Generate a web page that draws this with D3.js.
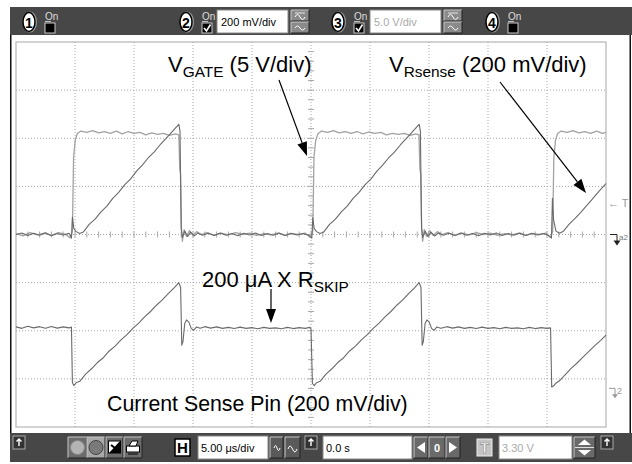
<!DOCTYPE html>
<html>
<head>
<meta charset="utf-8">
<script src="https://cdn.jsdelivr.net/npm/d3@7"></script>
<style>
html, body { margin: 0; padding: 0; background: #fff; }
svg { display: block; font-family: "Liberation Sans", Arial, Helvetica, sans-serif; }
</style>
</head>
<body>
<div id="chart"></div>
<script>
// =======================
// Scope settings & traces (time in µs)
// =======================
const timePerDiv = 5;          // 5.00 µs/div
const gateVoltsPerDiv = 5;     // 5 V/div
const senseMvPerDiv = 200;     // 200 mV/div
const csGroundDiv = -3.3;      // ground of the current sense trace, divisions from centre

const timeGrid = [-20, -15, -10, -5, 0, 5, 10, 15, 20];
const divGrid = [-3, -2, -1, 0, 1, 2, 3];

// V_GATE, volts
const gateTrace = [
  [-25.0, 0.1], [-24.4, -0.15], [-23.8, 0.2], [-23.2, -0.05], [-22.6, 0.15], [-22.0, -0.1], [-21.4, 0.2], [-20.8, 0.0],
  [-20.4, -0.35], [-20.22, 0.3], [-20.12, 8.0], [-19.98, 9.8], [-19.8, 10.5], [-19.5, 10.75],
  [-19.0, 10.6], [-18.5, 10.8], [-18.0, 10.55], [-17.5, 10.7], [-17.0, 10.5], [-16.5, 10.75], [-16.0, 10.45],
  [-15.5, 10.7], [-15.0, 10.5], [-14.5, 10.6], [-14.0, 10.35], [-13.5, 10.55], [-13.0, 10.4], [-12.5, 10.5],
  [-12.0, 10.3], [-11.5, 10.45], [-11.2, 10.35],
  [-11.12, 6.8], [-11.06, 6.3], [-10.98, 0.6], [-10.9, -0.7], [-10.75, 0.5], [-10.55, -0.2], [-10.3, 0.4],
  [-10.0, -0.1], [-9.7, 0.3], [-9.3, 0.0], [-8.8, 0.2], [-8.2, -0.1], [-7.6, 0.15], [-7.0, -0.05], [-6.4, 0.2],
  [-5.8, 0.0], [-5.2, 0.15], [-4.6, -0.1], [-4.0, 0.1], [-3.4, -0.05], [-2.8, 0.15], [-2.2, -0.1], [-1.6, 0.1],
  [-1.0, 0.0], [-0.5, 0.15], [-0.05, -0.3], [0.15, 0.3], [0.25, 8.0], [0.4, 9.8], [0.6, 10.5], [0.9, 10.75],
  [1.4, 10.6], [1.9, 10.8], [2.4, 10.55], [2.9, 10.7], [3.4, 10.5], [3.9, 10.7], [4.4, 10.45], [4.9, 10.65],
  [5.4, 10.5], [5.9, 10.6], [6.4, 10.35], [6.9, 10.5], [7.4, 10.4], [7.9, 10.5], [8.4, 10.3], [8.9, 10.45], [9.15, 10.35],
  [9.23, 6.8], [9.3, 6.3], [9.38, 0.6], [9.46, -0.7], [9.6, 0.5], [9.8, -0.2], [10.05, 0.4], [10.35, -0.1],
  [10.7, 0.3], [11.1, 0.0], [11.6, 0.2], [12.2, -0.1], [12.8, 0.15], [13.4, -0.05], [14.0, 0.2], [14.6, 0.0],
  [15.2, 0.15], [15.8, -0.1], [16.4, 0.1], [17.0, -0.05], [17.6, 0.15], [18.2, -0.1], [18.8, 0.1], [19.4, 0.0],
  [19.9, 0.15], [20.3, -0.3], [20.48, 0.3], [20.58, 8.0], [20.72, 9.8], [20.9, 10.5], [21.2, 10.75],
  [21.7, 10.6], [22.2, 10.8], [22.7, 10.55], [23.2, 10.7], [23.7, 10.5], [24.2, 10.75], [24.7, 10.5], [25.0, 10.6]
];

// V_Rsense, millivolts
const rsenseTrace = [
  [-25.0, 0], [-24.5, 6], [-24.0, -4], [-23.5, 5], [-23.0, -3], [-22.5, 7], [-22.0, -5], [-21.5, 4], [-21.0, -2],
  [-20.5, 5], [-20.3, -15], [-20.22, 72], [-20.1, 25], [-19.9, 12], [-19.6, 4], [-19.3, 10],
  [-18.8, 42], [-18.3, 64], [-17.8, 94], [-17.3, 118], [-16.8, 150], [-16.3, 175], [-15.8, 206], [-15.3, 230],
  [-14.8, 262], [-14.3, 288], [-13.8, 318], [-13.3, 342], [-12.8, 372], [-12.3, 398], [-11.8, 425], [-11.4, 447], [-11.2, 458],
  [-11.1, 430], [-11.0, 25], [-10.9, -12], [-10.7, 14], [-10.45, -8], [-10.2, 10], [-9.9, -6], [-9.6, 6], [-9.2, -3],
  [-8.7, 5], [-8.2, -4], [-7.7, 6], [-7.2, -3], [-6.7, 4], [-6.2, -5], [-5.7, 5], [-5.2, -2], [-4.7, 6], [-4.2, -4],
  [-3.7, 4], [-3.2, -3], [-2.7, 6], [-2.2, -4], [-1.7, 5], [-1.2, -2], [-0.7, 4], [-0.2, -3],
  [0.07, -15], [0.15, 70], [0.27, 25], [0.47, 12], [0.77, 4], [1.07, 10],
  [1.57, 42], [2.07, 64], [2.57, 94], [3.07, 118], [3.57, 150], [4.07, 175], [4.57, 206], [5.07, 230], [5.57, 262],
  [6.07, 288], [6.57, 318], [7.07, 342], [7.57, 372], [8.07, 398], [8.57, 425], [8.97, 447], [9.17, 458],
  [9.27, 430], [9.37, 25], [9.47, -12], [9.67, 14], [9.92, -8], [10.17, 10], [10.47, -6], [10.8, 6], [11.2, -3],
  [11.7, 5], [12.2, -4], [12.7, 6], [13.2, -3], [13.7, 4], [14.2, -5], [14.7, 5], [15.2, -2], [15.7, 6], [16.2, -4],
  [16.7, 4], [17.2, -3], [17.7, 6], [18.2, -4], [18.7, 5], [19.2, -2], [19.7, 4], [20.1, -3],
  [20.38, -15], [20.46, 150], [20.56, 60], [20.76, 14], [21.06, 5], [21.36, 12],
  [21.86, 42], [22.36, 66], [22.86, 92], [23.36, 120], [23.86, 148], [24.36, 177], [24.86, 204], [25.0, 212]
];

// Current sense pin, millivolts
const csTrace = [
  [-25.0, 276], [-24.5, 270], [-24.0, 279], [-23.5, 272], [-23.0, 277], [-22.5, 270], [-22.0, 278], [-21.5, 271],
  [-21.0, 276], [-20.5, 272], [-20.3, 275], [-20.22, 45], [-20.1, 32], [-19.9, 44], [-19.6, 50],
  [-19.1, 80], [-18.6, 102], [-18.1, 128], [-17.6, 148], [-17.1, 176], [-16.6, 196], [-16.1, 222], [-15.6, 244],
  [-15.1, 270], [-14.6, 292], [-14.1, 318], [-13.6, 340], [-13.1, 366], [-12.6, 388], [-12.1, 414], [-11.6, 438], [-11.2, 460],
  [-11.05, 440], [-10.95, 200], [-10.85, 215], [-10.7, 290], [-10.55, 305], [-10.35, 296], [-10.15, 270], [-9.95, 262],
  [-9.7, 276], [-9.4, 270], [-9.0, 277], [-8.5, 271], [-8.0, 276], [-7.5, 270], [-7.0, 274], [-6.5, 269], [-6.0, 275],
  [-5.5, 270], [-5.0, 273], [-4.5, 268], [-4.0, 274], [-3.5, 270], [-3.0, 272], [-2.5, 268], [-2.0, 274], [-1.5, 269],
  [-1.0, 273], [-0.5, 270], [-0.1, 274], [0.0, 268], [0.12, 42], [0.27, 32], [0.47, 44], [0.77, 50],
  [1.27, 80], [1.77, 102], [2.27, 128], [2.77, 148], [3.27, 176], [3.77, 196], [4.27, 222], [4.77, 244], [5.27, 270],
  [5.77, 292], [6.27, 318], [6.77, 340], [7.27, 366], [7.77, 388], [8.27, 414], [8.77, 438], [9.17, 460],
  [9.32, 440], [9.42, 200], [9.52, 215], [9.67, 290], [9.82, 305], [10.02, 296], [10.22, 270], [10.42, 262],
  [10.67, 276], [11.0, 270], [11.5, 277], [12.0, 271], [12.5, 276], [13.0, 270], [13.5, 274], [14.0, 269], [14.5, 275],
  [15.0, 270], [15.5, 273], [16.0, 268], [16.5, 274], [17.0, 270], [17.5, 272], [18.0, 268], [18.5, 274], [19.0, 269],
  [19.5, 273], [20.0, 270], [20.3, 272], [20.4, 26], [20.55, 30], [20.75, 42], [21.05, 52],
  [21.55, 78], [22.05, 104], [22.55, 126], [23.05, 150], [23.55, 174], [24.05, 198], [24.55, 220], [25.0, 242]
];

// =======================
// SVG & scales
// =======================
const W = 632, H = 464;
const svg = d3.select("#chart").append("svg").attr("width", W).attr("height", H);

const plot = { left: 16, right: 606, top: 42, bottom: 427 };
const x = d3.scaleLinear().domain([-5 * timePerDiv, 5 * timePerDiv]).range([plot.left, plot.right]);
const yDiv = d3.scaleLinear().domain([-4, 4]).range([plot.bottom, plot.top]);
const yGate = d3.scaleLinear().domain([-4 * gateVoltsPerDiv, 4 * gateVoltsPerDiv]).range([plot.bottom, plot.top]);
const yRs = d3.scaleLinear().domain([-4 * senseMvPerDiv, 4 * senseMvPerDiv]).range([plot.bottom, plot.top]);
const yCs = d3.scaleLinear()
  .domain([(-4 - csGroundDiv) * senseMvPerDiv, (4 - csGroundDiv) * senseMvPerDiv])
  .range([plot.bottom, plot.top]);

// =======================
// Window frame & toolbars
// =======================
const dark = "#474747";
svg.append("rect").attr("x", 10).attr("y", 7).attr("width", 622).attr("height", 28).attr("fill", dark);
svg.append("rect").attr("x", 10).attr("y", 433).attr("width", 622).attr("height", 29).attr("fill", dark);
svg.append("rect").attr("x", 10).attr("y", 35).attr("width", 1.5).attr("height", 398).attr("fill", "#111");
svg.append("rect").attr("x", 629.5).attr("y", 35).attr("width", 1.5).attr("height", 398).attr("fill", "#111");

function bevel(g, x0, y0, w, h, fill) {
  g.append("rect").attr("x", x0).attr("y", y0).attr("width", w).attr("height", h).attr("fill", fill);
  g.append("path").attr("d", `M${x0},${y0 + h}V${y0}H${x0 + w}`).attr("stroke", "#c8c8c8").attr("fill", "none");
  g.append("path").attr("d", `M${x0},${y0 + h}H${x0 + w}V${y0}`).attr("stroke", "#222").attr("fill", "none");
}
function textBox(g, x0, y0, w, h, label, color) {
  g.append("rect").attr("x", x0).attr("y", y0).attr("width", w).attr("height", h)
    .attr("fill", "#fff").attr("stroke", "#888");
  g.append("text").attr("x", x0 + 4).attr("y", y0 + h / 2 + 4).attr("font-size", 11)
    .attr("fill", color).text(label);
}
function waveButtons(g, x0) {
  bevel(g, x0, 10, 18, 11, "#8a8a8a");
  bevel(g, x0, 22, 18, 11, "#8a8a8a");
  g.append("path").attr("d", `M${x0 + 4},${17} q2.5,-5 5,0 t5,0`).attr("stroke", "#fff").attr("fill", "none");
  g.append("path").attr("d", `M${x0 + 4},${13}h10`).attr("stroke", "#fff").attr("stroke-width", 0.8);
  g.append("path").attr("d", `M${x0 + 4},${28} q2.5,-4 5,0 t5,0`).attr("stroke", "#fff").attr("fill", "none");
}

const channels = [
  { n: "1", cx: 29, on: false, box: null },
  { n: "2", cx: 186, on: true, box: { x: 217, label: "200 mV/div", color: "#000" } },
  { n: "3", cx: 338, on: true, box: { x: 370, label: "5.0 V/div", color: "#aaa" } },
  { n: "4", cx: 492, on: false, box: null }
];
const topBar = svg.append("g");
channels.forEach(c => {
  topBar.append("ellipse").attr("cx", c.cx + 1).attr("cy", 22).attr("rx", 7).attr("ry", 10.5).attr("fill", "#999");
  topBar.append("ellipse").attr("cx", c.cx).attr("cy", 22).attr("rx", 6).attr("ry", 9.5)
    .attr("fill", "#fff").attr("stroke", "#000").attr("stroke-width", 1.5);
  topBar.append("text").attr("x", c.cx).attr("y", 27.5).attr("text-anchor", "middle")
    .attr("font-size", 14).attr("font-weight", "bold").text(c.n);
  const bx = c.cx + 16;
  topBar.append("text").attr("x", bx).attr("y", 20).attr("font-size", 10).attr("fill", "#ddd").text("On");
  topBar.append("path").attr("d", `M${bx},21.5h6`).attr("stroke", "#ddd").attr("stroke-width", 0.8);
  topBar.append("rect").attr("x", bx).attr("y", 23).attr("width", 10).attr("height", 10)
    .attr("fill", "#000").attr("stroke", "#ccc");
  if (c.on) {
    topBar.append("path").attr("d", `M${bx + 2},${28} l2.5,3 l4,-6.5`).attr("stroke", "#fff")
      .attr("stroke-width", 1.6).attr("fill", "none");
  }
  if (c.box) {
    textBox(topBar, c.box.x, 10, 71, 23, c.box.label, c.box.color);
    waveButtons(topBar, c.box.x + 74);
  }
});

// bottom toolbar
const bot = svg.append("g");
function upArrowBox(x0) {
  bot.append("rect").attr("x", x0).attr("y", 436).attr("width", 12).attr("height", 13)
    .attr("fill", "#333").attr("stroke", "#aaa");
  bot.append("path").attr("d", `M${x0 + 6},${446}V${439} M${x0 + 3.5},${441.5}L${x0 + 6},${439}L${x0 + 8.5},${441.5}`)
    .attr("stroke", "#fff").attr("fill", "none").attr("stroke-width", 1.4);
}
upArrowBox(13);
upArrowBox(305);
upArrowBox(601);

bevel(bot, 68, 437, 19, 21, "#6c6c6c");
bot.append("circle").attr("cx", 77.5).attr("cy", 447.5).attr("r", 7).attr("fill", "#b4b4b4").attr("stroke", "#888");
bevel(bot, 87, 437, 18, 21, "#a8a8a8");
bot.append("circle").attr("cx", 96).attr("cy", 447.5).attr("r", 7).attr("fill", "#7a7a7a").attr("stroke", "#444");
bevel(bot, 106, 437, 17, 21, "#6c6c6c");
bot.append("rect").attr("x", 108.5).attr("y", 441).attr("width", 12).attr("height", 12).attr("fill", "#fff").attr("stroke", "#000");
bot.append("path").attr("d", "M109,453L120,441V453Z").attr("fill", "#000");
bot.append("path").attr("d", "M111,445l4,3").attr("stroke", "#000").attr("stroke-width", 2);
bevel(bot, 124, 437, 18, 21, "#6c6c6c");
bot.append("rect").attr("x", 126.5).attr("y", 446).attr("width", 13).attr("height", 6).attr("fill", "#fff").attr("stroke", "#000");
bot.append("path").attr("d", "M129,446l3,-5h6l-2,5Z").attr("fill", "#fff").attr("stroke", "#000");
bot.append("path").attr("d", "M128,454h10").attr("stroke", "#000");

bot.append("rect").attr("x", 175).attr("y", 439).attr("width", 15).attr("height", 17).attr("fill", "#fff").attr("stroke", "#000").attr("stroke-width", 1.5);
bot.append("text").attr("x", 182.5).attr("y", 453).attr("text-anchor", "middle").attr("font-size", 15).attr("font-weight", "bold").text("H");
bot.append("rect").attr("x", 198).attr("y", 436).attr("width", 70).attr("height", 23).attr("fill", "#fff").attr("stroke", "#888");
bot.append("text").attr("x", 201).attr("y", 452).attr("font-size", 11).text("5.00 \u03bcs/div");
bevel(bot, 270, 437, 13, 21, "#5a5a5a");
bot.append("path").attr("d", "M274,448 q1.5,-5 3,0 t3,0").attr("stroke", "#fff").attr("fill", "none");
bevel(bot, 285, 437, 15, 21, "#5a5a5a");
bot.append("path").attr("d", "M288,449 q2,-6 4.5,0 t4.5,0").attr("stroke", "#fff").attr("fill", "none");

bot.append("rect").attr("x", 323).attr("y", 436).attr("width", 89).attr("height", 23).attr("fill", "#fff").attr("stroke", "#888");
bot.append("text").attr("x", 326).attr("y", 452).attr("font-size", 11).text("0.0 s");
bevel(bot, 414, 437, 14, 21, "#6a6a6a");
bot.append("path").attr("d", "M425,442V453L417,447.5Z").attr("fill", "#fff");
bevel(bot, 429, 437, 16, 21, "#6a6a6a");
bot.append("text").attr("x", 437).attr("y", 452).attr("text-anchor", "middle").attr("font-size", 11).attr("font-weight", "bold").attr("fill", "#fff").text("0");
bevel(bot, 446, 437, 14, 21, "#6a6a6a");
bot.append("path").attr("d", "M449,442V453L457,447.5Z").attr("fill", "#fff");

bot.append("rect").attr("x", 477).attr("y", 439).attr("width", 15).attr("height", 17).attr("fill", "#c4c4c4").attr("stroke", "#eee");
bot.append("text").attr("x", 484.5).attr("y", 453).attr("text-anchor", "middle").attr("font-size", 15).attr("font-weight", "bold")
  .attr("fill", "#fff").attr("stroke", "#888").attr("stroke-width", 0.6).text("T");
bot.append("rect").attr("x", 499).attr("y", 436).attr("width", 73).attr("height", 23).attr("fill", "#fff").attr("stroke", "#888");
bot.append("text").attr("x", 502).attr("y", 452).attr("font-size", 11).attr("fill", "#aaa").text("3.30 V");
bevel(bot, 574, 437, 21, 21, "#6a6a6a");
bot.append("path").attr("d", "M575,447.5h19").attr("stroke", "#ddd");
bot.append("path").attr("d", "M578,445L584.5,439.5L591,445Z").attr("fill", "#fff");
bot.append("path").attr("d", "M578,450L584.5,455.5L591,450Z").attr("fill", "#fff");

// =======================
// Graticule
// =======================
const grid = svg.append("g");
grid.append("rect").attr("x", plot.left).attr("y", plot.top)
  .attr("width", plot.right - plot.left).attr("height", plot.bottom - plot.top)
  .attr("fill", "none").attr("stroke", "#c4c4c4").attr("stroke-width", 1.5);

grid.selectAll(".vgrid").data(timeGrid).enter().append("line")
  .attr("x1", d => x(d)).attr("x2", d => x(d))
  .attr("y1", plot.top).attr("y2", plot.bottom)
  .attr("stroke", "#a8a8a8").attr("stroke-dasharray", "1,2");

grid.selectAll(".hgrid").data(divGrid).enter().append("line")
  .attr("x1", plot.left).attr("x2", plot.right)
  .attr("y1", d => yDiv(d)).attr("y2", d => yDiv(d))
  .attr("stroke", "#a8a8a8").attr("stroke-dasharray", "1,2");

// minor ticks on the centre lines
const minorT = d3.range(-5 * timePerDiv + 1, 5 * timePerDiv, 1);
const minorV = d3.range(-3.8, 3.81, 0.2);
grid.selectAll(".tx").data(minorT).enter().append("line")
  .attr("x1", d => x(d)).attr("x2", d => x(d))
  .attr("y1", yDiv(0) - 3).attr("y2", yDiv(0) + 3)
  .attr("stroke", "#a8a8a8");
grid.selectAll(".ty").data(minorV).enter().append("line")
  .attr("x1", x(0) - 3).attr("x2", x(0) + 3)
  .attr("y1", d => yDiv(d)).attr("y2", d => yDiv(d))
  .attr("stroke", "#a8a8a8");

// =======================
// Traces
// =======================
const traces = svg.append("g").attr("fill", "none").attr("stroke-linejoin", "round");
traces.append("path").datum(gateTrace)
  .attr("d", d3.line().x(d => x(d[0])).y(d => yGate(d[1])))
  .attr("stroke", "#a2a2a2").attr("stroke-width", 1.3);
traces.append("path").datum(rsenseTrace)
  .attr("d", d3.line().x(d => x(d[0])).y(d => yRs(d[1])))
  .attr("stroke", "#6a6a6a").attr("stroke-width", 1.1);
traces.append("path").datum(csTrace)
  .attr("d", d3.line().x(d => x(d[0])).y(d => yCs(d[1])))
  .attr("stroke", "#6a6a6a").attr("stroke-width", 1.1);

// right-hand markers
const mk = svg.append("g");
mk.append("text").attr("x", 608).attr("y", 207).attr("font-size", 11).attr("fill", "#999").text("\u2190 T");
const ga = yRs(0);
mk.append("path").attr("d", `M610,${ga}H617V${ga + 8}`).attr("stroke", "#222").attr("fill", "none");
mk.append("path").attr("d", `M613.5,${ga + 6}L620.5,${ga + 6}L617,${ga + 11}Z`).attr("fill", "#222");
mk.append("text").attr("x", 619).attr("y", ga + 5).attr("font-size", 8).attr("fill", "#777").text("a2");
const gc = yCs(0) - 5;
mk.append("path").attr("d", `M609,${gc}H615V${gc + 8}`).attr("stroke", "#999").attr("fill", "none");
mk.append("path").attr("d", `M612,${gc + 6}L618,${gc + 6}L615,${gc + 10}Z`).attr("fill", "#999");
mk.append("text").attr("x", 617).attr("y", gc + 6).attr("font-size", 9).attr("fill", "#999").text("2");

// =======================
// Annotations
// =======================
function arrow(x1, y1, x2, y2) {
  const a = Math.atan2(y2 - y1, x2 - x1), len = 14, hw = 5;
  const bx = x2 - len * Math.cos(a), by = y2 - len * Math.sin(a);
  svg.append("line").attr("x1", x1).attr("y1", y1).attr("x2", bx).attr("y2", by)
    .attr("stroke", "#000").attr("stroke-width", 1.2);
  svg.append("path")
    .attr("d", `M${x2},${y2}L${bx + hw * Math.sin(a)},${by - hw * Math.cos(a)}L${bx - hw * Math.sin(a)},${by + hw * Math.cos(a)}Z`)
    .attr("fill", "#000");
}
function label(x0, y0, size, main, sub, rest) {
  const t = svg.append("text").attr("x", x0).attr("y", y0).attr("font-size", size).attr("fill", "#000");
  t.append("tspan").text(main);
  if (sub) {
    t.append("tspan").attr("font-size", size * 0.7).attr("dy", 5).text(sub);
    t.append("tspan").attr("dy", -5).text(rest);
  }
}
label(168, 72, 22, "V", "GATE", " (5 V/div)");
label(389, 72, 22, "V", "Rsense", " (200 mV/div)");
label(202, 287, 22, "200 \u03bcA X R", "SKIP", "");
label(107, 411, 21.3, "Current Sense Pin (200 mV/div)");

arrow(279, 80, 307, 156);
arrow(500, 82, 586, 193);
arrow(271, 289, 271, 323);
</script>
</body>
</html>
